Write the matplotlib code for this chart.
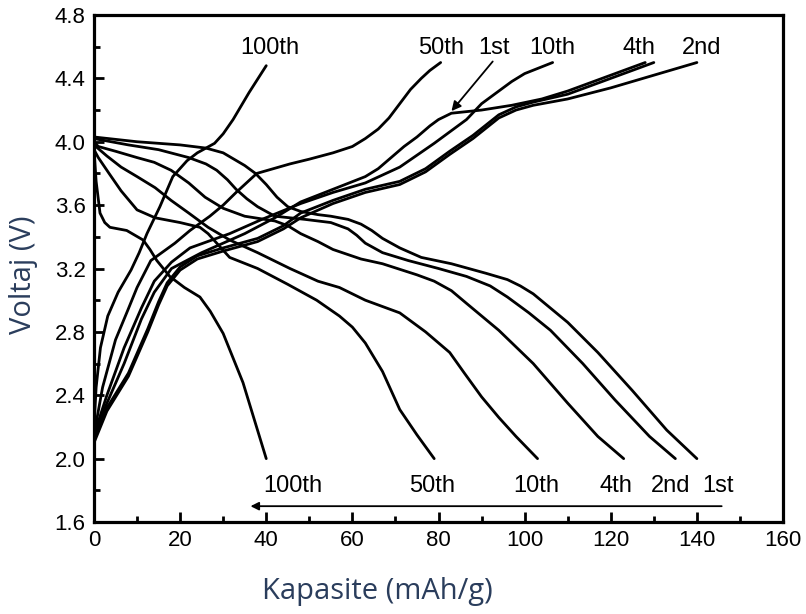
import matplotlib.pyplot as plt
from matplotlib.ticker import MultipleLocator

# --- data (capacity mAh/g, voltage V) ---
chg_1st_q = [0, 3, 7, 11, 14, 18, 25, 35, 42, 48, 55.5, 63, 66, 69, 72, 75, 78, 80, 83, 90, 97, 104, 110, 116, 122, 128]
chg_1st_v = [2.15, 2.35, 2.6, 2.88, 3.05, 3.2, 3.3, 3.42, 3.52, 3.62, 3.70, 3.78, 3.83, 3.90, 3.97, 4.03, 4.10, 4.14, 4.18, 4.20, 4.23, 4.27, 4.32, 4.38, 4.44, 4.5]

chg_2nd_q = [0, 3, 8, 12.5, 15, 17, 20, 24, 30, 38, 44, 48, 55.5, 63, 71, 77, 82.6, 88, 94, 98, 102, 110, 120, 130, 140]
chg_2nd_v = [2.1, 2.3, 2.52, 2.8, 2.97, 3.09, 3.19, 3.26, 3.31, 3.37, 3.45, 3.52, 3.61, 3.68, 3.73, 3.81, 3.92, 4.02, 4.15, 4.20, 4.23, 4.27, 4.34, 4.42, 4.5]

chg_4th_q = [0, 3, 8, 12.5, 15, 17, 20, 24, 30, 38, 44, 48, 55.5, 63, 71, 77, 82.6, 88, 94, 98, 102, 110, 120, 130]
chg_4th_v = [2.12, 2.32, 2.54, 2.82, 2.99, 3.11, 3.21, 3.28, 3.33, 3.39, 3.47, 3.55, 3.63, 3.70, 3.75, 3.83, 3.94, 4.04, 4.17, 4.22, 4.25, 4.30, 4.40, 4.5]

chg_10th_q = [0, 3, 7, 11, 14, 18, 22.3, 31.5, 39, 48, 55.5, 63, 71, 79, 86.5, 90, 94, 97, 100, 106.5]
chg_10th_v = [2.15, 2.4, 2.7, 2.95, 3.12, 3.24, 3.33, 3.42, 3.51, 3.61, 3.68, 3.74, 3.84, 3.99, 4.14, 4.24, 4.32, 4.38, 4.43, 4.5]

chg_50th_q = [0, 2, 5, 7.9, 10, 13.2, 18.8, 22.3, 26.9, 30, 33, 37.8, 45.5, 50, 55.5, 60, 63, 66, 68.5, 71, 73.5, 76, 78, 80.5]
chg_50th_v = [2.15, 2.45, 2.75, 2.94, 3.08, 3.25, 3.36, 3.44, 3.53, 3.60, 3.68, 3.80, 3.86, 3.89, 3.93, 3.97, 4.02, 4.08, 4.15, 4.24, 4.33, 4.40, 4.45, 4.5]

chg_100th_q = [0, 0.5, 1.5, 3.2, 5.6, 8.6, 10.5, 12.3, 15.3, 18.3, 21.6, 24, 26, 28, 30, 32.3, 36, 40]
chg_100th_v = [2.2, 2.45, 2.7, 2.9, 3.05, 3.19, 3.3, 3.42, 3.59, 3.78, 3.88, 3.93, 3.96, 3.99, 4.05, 4.14, 4.31, 4.48]

dis_1st_q = [0, 10, 20, 26, 30, 32.5, 35, 37.5, 40, 42.5, 45, 48, 52, 55, 59, 62, 64.5, 67, 71, 76, 83, 91, 96, 99, 102, 106, 110, 117, 125, 133, 140]
dis_1st_v = [4.03, 4.0, 3.98, 3.96, 3.93, 3.89, 3.85, 3.80, 3.73, 3.65, 3.59, 3.56, 3.54, 3.53, 3.51, 3.48, 3.44, 3.39, 3.33, 3.27, 3.23, 3.17, 3.13, 3.09, 3.04, 2.95, 2.86, 2.67, 2.43, 2.18, 2.0]

dis_2nd_q = [0, 8, 15, 22, 26, 28.5, 31, 33, 35.5, 38, 42, 49, 55, 59, 61, 63, 67, 73, 80, 86.5, 92, 96, 101, 106, 113.5, 121, 129, 135]
dis_2nd_v = [4.02, 3.98, 3.95, 3.90, 3.86, 3.82, 3.76, 3.70, 3.64, 3.59, 3.53, 3.51, 3.49, 3.45, 3.41, 3.36, 3.30, 3.25, 3.20, 3.15, 3.09, 3.02, 2.92, 2.81, 2.60, 2.37, 2.14, 2.0]

dis_4th_q = [0, 1, 5, 10, 14, 17.9, 22, 25.8, 30, 35, 42, 45, 48, 52, 55.5, 62, 67, 75, 79, 83, 86.5, 94, 102, 110, 117, 123]
dis_4th_v = [4.0, 3.97, 3.94, 3.90, 3.87, 3.82, 3.74, 3.65, 3.58, 3.53, 3.50, 3.47, 3.42, 3.37, 3.32, 3.26, 3.23, 3.16, 3.12, 3.06, 2.98, 2.81, 2.60, 2.35, 2.14, 2.0]

dis_10th_q = [0, 3, 6.3, 10, 14.2, 17.9, 22, 26.5, 31.5, 38, 45.5, 52, 57, 63, 67, 71, 77, 82.6, 86, 90, 94, 98, 103]
dis_10th_v = [3.98, 3.91, 3.84, 3.78, 3.71, 3.63, 3.55, 3.46, 3.38, 3.30, 3.20, 3.12, 3.08, 3.0, 2.96, 2.92, 2.80, 2.67, 2.54, 2.39, 2.26, 2.14, 2.0]

dis_50th_q = [0, 1, 3.5, 6.3, 10, 14.2, 20, 24.6, 26.5, 28.5, 31.5, 38, 45, 51.7, 57, 60, 63, 67, 71, 75, 79]
dis_50th_v = [3.95, 3.9, 3.8, 3.69, 3.57, 3.52, 3.49, 3.46, 3.42, 3.36, 3.27, 3.20, 3.10, 3.0, 2.9, 2.83, 2.73, 2.55, 2.31, 2.15, 2.0]

dis_100th_q = [0, 0.5, 1.4, 2.5, 3.7, 7.6, 11.4, 13, 14.6, 17.6, 21, 24.6, 27, 30, 34.6, 40]
dis_100th_v = [3.95, 3.75, 3.55, 3.49, 3.46, 3.44, 3.38, 3.32, 3.25, 3.15, 3.08, 3.02, 2.93, 2.79, 2.48, 2.0]

# cycle labels
top_labels = ["100th", "50th", "1st", "10th", "4th", "2nd"]
top_label_x = [40.8, 80.7, 93, 106.3, 126.5, 141]
bottom_labels = ["100th", "50th", "10th", "4th", "2nd", "1st"]
bottom_label_x = [46.2, 78.4, 102.8, 121.3, 134, 144.8]

fig = plt.figure(figsize=(8.06, 6.14), dpi=100)
ax = fig.add_axes([0.1166, 0.1498, 0.8549, 0.8258])

curves = [
    (chg_1st_q, chg_1st_v), (chg_2nd_q, chg_2nd_v), (chg_4th_q, chg_4th_v),
    (chg_10th_q, chg_10th_v), (chg_50th_q, chg_50th_v), (chg_100th_q, chg_100th_v),
    (dis_1st_q, dis_1st_v), (dis_2nd_q, dis_2nd_v), (dis_4th_q, dis_4th_v),
    (dis_10th_q, dis_10th_v), (dis_50th_q, dis_50th_v), (dis_100th_q, dis_100th_v),
]
for q, v in curves:
    ax.plot(q, v, color="black", lw=2.0, solid_joinstyle="round", solid_capstyle="round")

ax.set_xlim(0, 160)
ax.set_ylim(1.6, 4.8)
ax.xaxis.set_major_locator(MultipleLocator(20))
ax.xaxis.set_minor_locator(MultipleLocator(10))
ax.yaxis.set_major_locator(MultipleLocator(0.4))
ax.yaxis.set_minor_locator(MultipleLocator(0.2))
ax.yaxis.set_major_formatter(plt.FormatStrFormatter("%.1f"))
ax.tick_params(which="both", direction="in", width=2.0, top=False, right=False,
               labelsize=16, labelfontfamily="Liberation Sans", pad=6)
ax.tick_params(which="major", length=7)
ax.tick_params(which="minor", length=4)
for s in ax.spines.values():
    s.set_linewidth(2.3)

for t, x in zip(top_labels, top_label_x):
    ax.text(x, 4.59, t, ha="center", va="center", fontsize=17, family="Liberation Sans")
for t, x in zip(bottom_labels, bottom_label_x):
    ax.text(x, 1.83, t, ha="center", va="center", fontsize=17, family="Liberation Sans")

# arrow pointing to the 1st charge kink
ax.annotate("", xy=(82.6, 4.18), xytext=(93, 4.52),
            arrowprops=dict(arrowstyle="-|>", color="black", lw=1.3, mutation_scale=14))
# cycle direction arrow along the bottom
ax.annotate("", xy=(35.7, 1.70), xytext=(146.4, 1.70),
            arrowprops=dict(arrowstyle="-|>", color="black", lw=1.3, mutation_scale=12))

label_color = "#2a3d5c"
fig.text(377 / 806, 1 - 592 / 614, "Kapasite (mAh/g)", fontsize=21, family="Open Sans",
         color=label_color, ha="center", va="center")
fig.text(24 / 806, 1 - 275 / 614, "Voltaj (V)", fontsize=21, family="Open Sans",
         color=label_color, ha="center", va="center", rotation=90)

fig.savefig("out.png", dpi=100)
